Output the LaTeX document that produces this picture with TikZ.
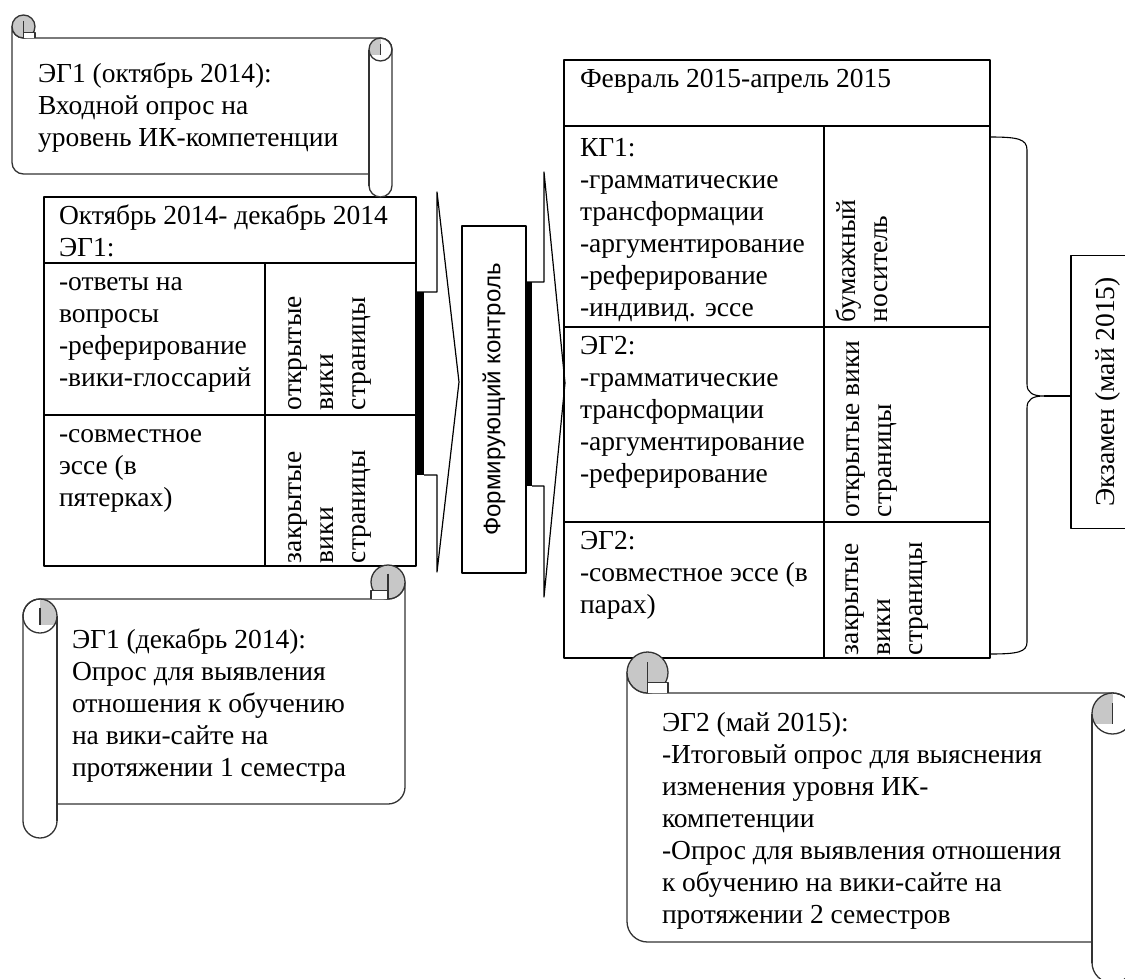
\documentclass[tikz,border=0pt]{standalone}
\usepackage{fontspec}
\setmainfont{Liberation Serif}
\newfontfamily\sansf{Liberation Sans}

% Horizontal scroll: #1 left, #2 top, #3 right, #4 bottom, #5 roll diameter.
% The curl sits on the upper-left corner, the roll along the right side.
\newcommand\scrollshape[5]{%
  \pgfmathsetmacro\sL{#1}\pgfmathsetmacro\sT{#2}%
  \pgfmathsetmacro\sR{#3}\pgfmathsetmacro\sB{#4}%
  \pgfmathsetmacro\sC{#5}\pgfmathsetmacro\sH{#5/2}\pgfmathsetmacro\sQ{#5/4}%
  % sheet
  \filldraw[scrollline, fill=white]
    (\sL,\sT+\sH) -- (\sL,\sB-\sC-\sH)
    arc[start angle=180, end angle=90, radius=\sH]
    -- (\sR-\sC,\sB-\sC) -- (\sR-\sC,\sB-\sH)
    arc[start angle=180, end angle=0, radius=\sH]
    -- (\sR,\sT+\sC+\sH)
    arc[start angle=0, end angle=-90, radius=\sH]
    -- (\sL+\sH,\sT+\sC)
    arc[start angle=90, end angle=180, radius=\sH] -- cycle;
  % curl on the upper-left corner
  \fill[curlfill] (\sL+\sH,\sT+\sH) circle[radius=\sH];
  \draw[scrollline] (\sL+\sH,\sT+\sH) circle[radius=\sH];
  \filldraw[scrollline, fill=white]
    (\sL+\sH,\sT+\sC) -- (\sL+\sH,\sT+\sC-\sQ) -- (\sL+\sC,\sT+\sC-\sQ) -- (\sL+\sC,\sT+\sC);
  \draw[scrollline] (\sL+\sH,\sT+\sQ) -- (\sL+\sH,\sT+\sC);
  % roll on the right side
  \draw[scrollline] (\sR-\sC,\sT+\sC+\sH) -- (\sR-\sC,\sB-\sH);
  \begin{scope}
    \clip (\sR-\sH,\sT+\sC+\sH) circle[radius=\sH];
    \fill[curlfill] (\sR-\sC,\sT+\sC) rectangle (\sR-\sH,\sT+\sC+\sH+\sQ);
  \end{scope}
  \draw[scrollline] (\sR-\sH,\sT+\sC+\sH) circle[radius=\sH];
  \draw[scrollline] (\sR-\sH,\sT+\sC+\sQ) -- (\sR-\sH,\sT+\sC+\sH+\sQ);
}

\begin{document}
\begin{tikzpicture}[x=1pt, y=-1pt, line join=round,
  frame/.style={draw=black, line width=1.3pt, inner sep=0pt, outer sep=0pt},
  rule/.style={draw=black, line width=1.3pt},
  arrowline/.style={draw=black, line width=1.2pt},
  scrollline/.style={draw=black!80, line width=1.3pt},
  curlfill/.style={fill=black!22},
  txt/.style={anchor=north west, inner sep=0pt, outer sep=0pt, align=left,
    font=\fontsize{27.5}{32}\selectfont},
  vtxt/.style={txt, rotate=90},
]
\useasboundingbox (0,0) rectangle (1125,978);
\clip (0,0) rectangle (1125,978);

% ---------- left table: October - December 2014 ----------
\node[frame, minimum width=372pt, minimum height=369pt, anchor=north west] (ltab) at (44,197) {};
\draw[rule] (44,263) -- (416,263);
\draw[rule] (44,415) -- (416,415);
\draw[rule] (265,263) -- (265,566);

% ---------- formative assessment box ----------
\node[frame, rotate=90, minimum width=347pt, minimum height=64pt,
      font=\sansf\fontsize{24}{28}\selectfont] (fk) at (494,399.5) {Формирующий контроль};

% ---------- right table: February - April 2015 ----------
\node[frame, minimum width=426pt, minimum height=598pt, anchor=north west] (rtab) at (564,60) {};
\draw[rule] (564,126) -- (990,126);
\draw[rule] (564,327) -- (990,327);
\draw[rule] (564,522) -- (990,522);
\draw[rule] (824,126) -- (824,658);

% ---------- exam box ----------
\node[frame, rotate=90, minimum width=273pt, minimum height=74pt,
      font=\fontsize{27.5}{32}\selectfont] (exam) at (1108,392) {Экзамен (май 2015)};

% ---------- block arrows ----------
\fill (416,292) rectangle (424,475);
\draw[arrowline] (416,292) -- (437,292) -- (437,192) -- (459,382) -- (437,572)
  -- (437,475) -- (424,475);
\fill (526,282) rectangle (532,486);
\draw[arrowline] (526,282) -- (544,282) -- (544,172) -- (565,383) -- (544,597)
  -- (544,486) -- (532,486);

% ---------- brace towards the exam ----------
\coordinate (btip) at (1044,396);
\draw[arrowline, line width=1.1pt] (990,137) .. controls (1018,137) and (1027,139) .. (1027,150)
  -- (1027,384) .. controls (1027,393) and (1033,396) .. (btip)
  .. controls (1033,396) and (1027,399) .. (1027,408)
  -- (1027,642) .. controls (1027,652) and (1018,654) .. (990,654);
\draw[arrowline, line width=1.1pt] (btip) -- (btip -| exam.north);

% ---------- scrolls ----------
\scrollshape{12}{15}{392}{197}{23}
\begin{scope}[xshift=428pt, xscale=-1]
  \scrollshape{23}{565}{405}{838}{34}
\end{scope}
\scrollshape{627}{652}{1133}{983}{41}

% ---------- texts ----------
\node[txt] (s1) at (38,59.6) {\strut ЭГ1 (октябрь 2014):\\Входной опрос на\\уровень ИК-компетенции};

\node[txt] (lhead) at (59,201.6) {\strut Октябрь 2014- декабрь 2014\\ЭГ1:};
\node[txt] (lr1) at (59,267.6) {\strut -ответы на\\вопросы\\-реферирование\\-вики-глоссарий};
\node[vtxt] (lr1v) at (278.6,410) {\strut открытые\\вики\\страницы};
\node[txt] (lr2) at (59,419.6) {\strut -совместное\\эссе (в\\пятерках)};
\node[vtxt] (lr2v) at (278.6,563) {\strut закрытые\\вики\\страницы};

\node[txt] (rhead) at (580,64.6) {\strut Февраль 2015-апрель 2015};
\node[txt] (rr1) at (580,133.6) {\strut КГ1:\\-грамматические\\трансформации\\-аргументирование\\-реферирование\\-индивид. эссе};
\node[vtxt] (rr1v) at (832.6,322) {\strut бумажный\\носитель};
\node[txt] (rr2) at (580,331.6) {\strut ЭГ2:\\-грамматические\\трансформации\\-аргументирование\\-реферирование};
\node[vtxt] (rr2v) at (836.6,517) {\strut открытые вики\\страницы};
\node[txt] (rr3) at (580,526.6) {\strut ЭГ2:\\-совместное эссе (в\\парах)};
\node[vtxt] (rr3v) at (835.6,655) {\strut закрытые\\вики\\страницы};

\node[txt] (s2) at (72,625.6) {\strut ЭГ1 (декабрь 2014):\\Опрос для выявления\\отношения к обучению\\на вики-сайте на\\протяжении 1 семестра};
\node[txt] (s3) at (662,708.6) {\strut ЭГ2 (май 2015):\\-Итоговый опрос для выяснения\\изменения уровня ИК-\\компетенции\\-Опрос для выявления отношения\\к обучению на вики-сайте на\\протяжении 2 семестров};
\end{tikzpicture}
\end{document}
